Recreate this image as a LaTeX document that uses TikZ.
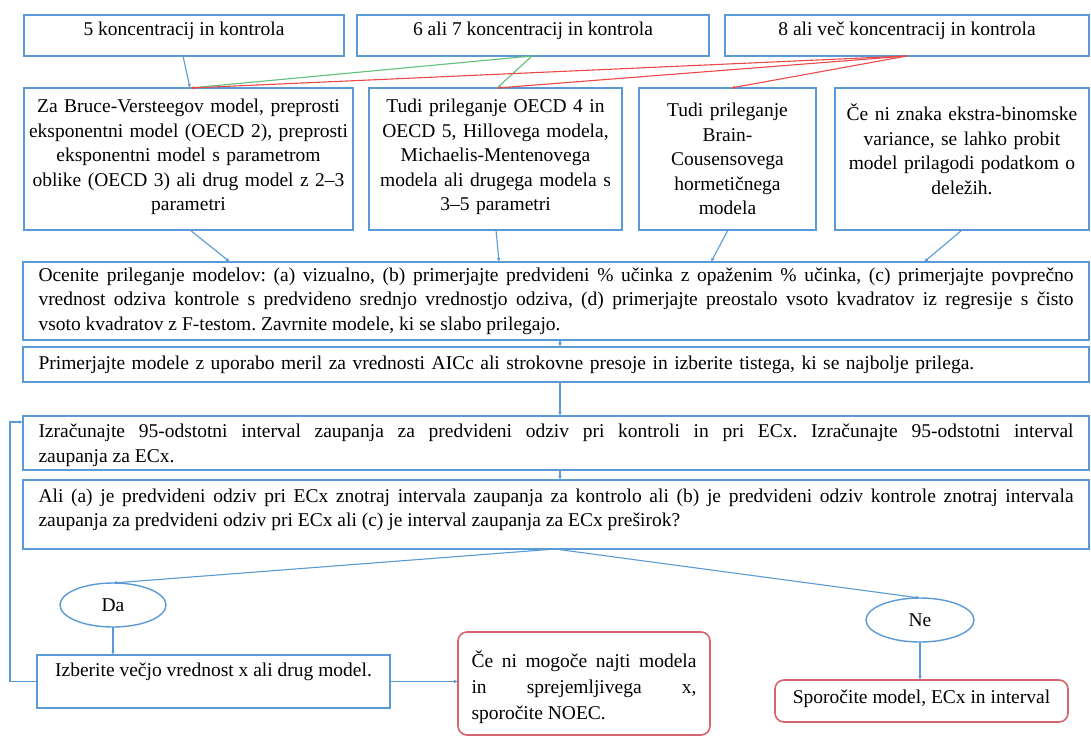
\documentclass[tikz,border=0pt]{standalone}
\usepackage{fontspec}
\setmainfont{Liberation Serif}
\usetikzlibrary{arrows.meta,shapes.geometric,calc}
\definecolor{boxblue}{RGB}{91,155,213}
\definecolor{edgered}{RGB}{214,100,108}
\definecolor{linkred}{RGB}{236,72,72}
\definecolor{linkgreen}{RGB}{96,192,124}
\frenchspacing
\begin{document}
\begin{tikzpicture}[x=1pt,y=-1pt,
  txt/.style={font=\fontsize{19.5}{24.5}\selectfont},
  bluebox/.style={draw=boxblue, line width=1.7pt, txt, inner sep=0pt,
    anchor=north west, outer sep=0pt},
  redbox/.style={draw=edgered, line width=1.6pt, txt, inner sep=0pt,
    anchor=north west, rounded corners=9pt, outer sep=0pt},
  oval/.style={ellipse, draw=boxblue, line width=1.4pt, txt, inner sep=0pt,
    outer sep=0pt},
  bluelink/.style={draw=boxblue, line width=1.1pt,
    -{Latex[length=4pt,width=3.5pt]}},
  redlink/.style={draw=linkred, line width=1.1pt,
    -{Latex[length=4pt,width=3.5pt]}},
  greenlink/.style={draw=linkgreen, line width=1.1pt},
]
\useasboundingbox (0,0) rectangle (1091,736);
\fill[white] (0,0) rectangle (1091,736);

% number of test concentrations
\node[bluebox, minimum width=320pt, minimum height=41pt, text depth=14pt]
  (T1) at (24,15) {5 koncentracij in kontrola};
\node[bluebox, minimum width=352pt, minimum height=41pt, text depth=14pt]
  (T2) at (357,15) {6 ali 7 koncentracij in kontrola};
\node[bluebox, minimum width=364pt, minimum height=41pt, text depth=14pt]
  (T3) at (725,15) {8 ali več koncentracij in kontrola};

% candidate models
\node[bluebox, minimum width=329pt, minimum height=142pt, text width=329pt,
  align=center, text depth=106pt] (A) at (24,88)
  {Za Bruce-Versteegov model, preprosti\\eksponentni model (OECD 2), preprosti\\
   eksponentni model s parametrom\\oblike (OECD 3) ali drug model z 2--3\\parametri};
\node[bluebox, minimum width=253pt, minimum height=142pt, text width=253pt,
  align=center, text depth=106pt] (B) at (369,88)
  {Tudi prileganje OECD 4 in\\OECD 5, Hillovega modela,\\Michaelis-Mentenovega\\
   modela ali drugega modela s\\3--5 parametri};
\node[bluebox, minimum width=177pt, minimum height=142pt, text width=177pt,
  align=center] (C) at (639,88)
  {Tudi prileganje\\Brain-\\Cousensovega\\hormetičnega\\modela};
\node[bluebox, minimum width=254pt, minimum height=142pt, text width=254pt,
  align=center, text depth=93pt] (D) at (835,88)
  {Če ni znaka ekstra-binomske\\variance, se lahko probit\\model prilagodi podatkom o\\deležih.};

% evaluation steps
\node[bluebox, minimum width=1066pt, minimum height=78pt, text width=1035pt,
  align=justify] (E) at (23,262)
  {Ocenite prileganje modelov: (a) vizualno, (b) primerjajte predvideni \% učinka z opaženim \% učinka, (c) primerjajte povprečno\linebreak
   vrednost odziva kontrole s predvideno srednjo vrednostjo odziva, (d) primerjajte preostalo vsoto kvadratov iz regresije s čisto\linebreak
   vsoto kvadratov z F-testom. Zavrnite modele, ki se slabo prilegajo.};
\node[bluebox, minimum width=1066pt, minimum height=35pt, text width=1035pt,
  align=left] (F) at (23,347)
  {Primerjajte modele z uporabo meril za vrednosti AICc ali strokovne presoje in izberite tistega, ki se najbolje prilega.};
\node[bluebox, minimum width=1066pt, minimum height=54pt, text width=1035pt,
  align=justify, text depth=24pt] (G) at (23,416)
  {Izračunajte 95-odstotni interval zaupanja za predvideni odziv pri kontroli in pri ECx. Izračunajte 95-odstotni interval\linebreak
   zaupanja za ECx.};
\node[bluebox, minimum width=1066pt, minimum height=69pt, text width=1035pt,
  align=justify, text depth=38pt] (H) at (23,480)
  {Ali (a) je predvideni odziv pri ECx znotraj intervala zaupanja za kontrolo ali (b) je predvideni odziv kontrole znotraj intervala\linebreak
   zaupanja za predvideni odziv pri ECx ali (c) je interval zaupanja za ECx preširok?};

% decision
\node[oval, minimum width=106pt, minimum height=44pt] (Da) at (113,605) {Da};
\node[oval, minimum width=108pt, minimum height=44pt] (Ne) at (920,620) {Ne};

\node[bluebox, minimum width=353pt, minimum height=53pt, text depth=24pt]
  (Izb) at (37,655) {Izberite večjo vrednost x ali drug model.};
\node[redbox, minimum width=252pt, minimum height=103pt, text width=225pt,
  align=justify, font=\fontsize{19.5}{26}\selectfont, text depth=48pt]
  (Ceni) at (458,632)
  {Če ni mogoče najti modela\linebreak in sprejemljivega x,\linebreak sporočite NOEC.};
\node[redbox, minimum width=293pt, minimum height=42pt, text depth=9pt]
  (Spo) at (775,680) {Sporočite model, ECx in interval};

\coordinate (back) at (10,0);

% links from the concentration boxes
\draw[bluelink] ([xshift=159pt]T1.south west) -- ([xshift=166pt]A.north west);
\draw[greenlink] ([xshift=175pt]T2.south west) -- ([xshift=166pt]A.north west);
\draw[greenlink] ([xshift=175pt]T2.south west) -- ([xshift=128pt]B.north west);
\draw[redlink] ([xshift=182pt]T3.south west) -- ([xshift=166pt]A.north west);
\draw[redlink] ([xshift=182pt]T3.south west) -- ([xshift=128pt]B.north west);
\draw[redlink] ([xshift=182pt]T3.south west) -- ([xshift=92pt]C.north west);

% links into the evaluation
\draw[bluelink] ([xshift=166pt]A.south west) -- ([xshift=207pt]E.north west);
\draw[bluelink] ([xshift=127pt]B.south west) -- ([xshift=476pt]E.north west);
\draw[bluelink] ([xshift=89pt]C.south west) -- ([xshift=688pt]E.north west);
\draw[bluelink] ([xshift=127pt]D.south west) -- ([xshift=901pt]E.north west);

\draw[bluelink] ([xshift=537pt]E.south west) -- ([xshift=537pt]F.north west);
\draw[bluelink] ([xshift=537pt]F.south west) -- ([xshift=537pt]G.north west);
\draw[bluelink] ([xshift=537pt]G.south west) -- ([xshift=537pt]H.north west);

% branches of the decision
\draw[bluelink] ([xshift=532pt]H.south west) -- (Da.north);
\draw[bluelink] ([xshift=532pt]H.south west) -- (Ne.north);
\draw[bluelink] (Da.south) -- (Da.south |- Izb.north);
\draw[bluelink] (Ne.south) -- (Ne.south |- Spo.north);
\draw[bluelink] (Izb.east) -- (Izb.east -| Ceni.west);
\draw[bluelink] (Izb.west) -- (Izb.west -| back) |- ([yshift=-6pt]G.north west);
\end{tikzpicture}
\end{document}
